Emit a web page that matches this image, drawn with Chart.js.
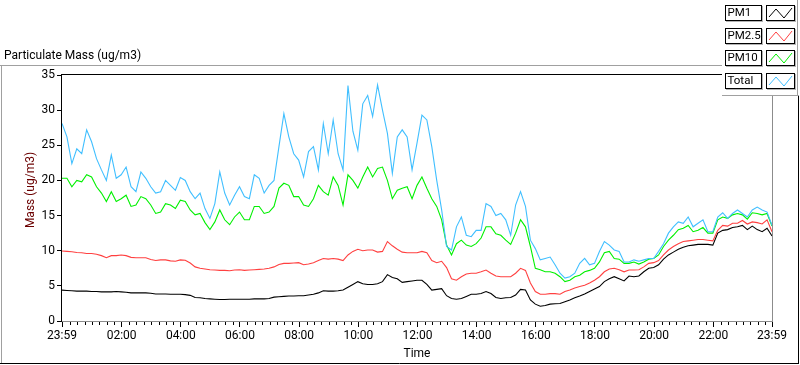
<!DOCTYPE html>
<html>
<head>
<meta charset="utf-8">
<script src="https://cdn.jsdelivr.net/npm/chart.js@4.4.0/dist/chart.umd.min.js"></script>
<style>
  body { margin: 0; background: #fff; }
  #wrap { width: 800px; height: 365px; }
</style>
</head>
<body>
<div id="wrap"><canvas id="myChart" width="800" height="365"></canvas></div>
<script>
// x axis is minutes after 23:59 (start of the day), one sample every 10 min
const sampleStep = 10;
const tickMinutes = [0, 121, 241, 361, 481, 601, 721, 841, 961, 1081, 1201, 1321, 1440];
const tickLabels = ['23:59', '02:00', '04:00', '06:00', '08:00', '10:00', '12:00',
  '14:00', '16:00', '18:00', '20:00', '22:00', '23:59'];
const minorStep = 15;

const seriesNames = ['PM1', 'PM2.5', 'PM10', 'Total'];
const seriesColors = ['#000000', '#ff4040', '#00f000', '#40bfff'];

const pm1 = [
  4.4, 4.35, 4.3, 4.25, 4.25, 4.25, 4.2, 4.2, 4.15, 4.15, 4.15, 4.2, 4.15, 4.1, 4.0, 4.0, 4.0, 4.0, 3.95, 3.85, 3.85, 3.85, 3.8, 3.8, 3.8, 3.75, 3.65, 3.35, 3.3, 3.2, 3.15,
  3.1, 3.05, 3.05, 3.1, 3.1, 3.1, 3.1, 3.1, 3.15, 3.15, 3.15, 3.2, 3.4, 3.45, 3.5, 3.55, 3.55, 3.6, 3.6, 3.7, 3.8, 4.0, 4.3, 4.25, 4.25, 4.3, 4.4, 4.8,
  5.2, 5.6, 5.3, 5.2, 5.2, 5.3, 5.6, 6.6, 6.2, 6.0, 5.5, 5.6, 5.7, 5.8, 5.8, 5.2, 4.4, 4.5, 4.6, 3.6, 3.2, 3.1, 3.2, 3.5, 3.8, 3.8, 3.9, 4.2, 3.9,
  3.35, 3.2, 3.3, 3.35, 3.7, 4.5, 4.4, 3.0, 2.4, 2.1, 2.2, 2.4, 2.45, 2.5, 2.75, 3.0, 3.3, 3.55, 3.85, 4.2, 4.55, 4.9, 5.6, 6.0, 6.3, 6.0, 5.7, 6.4, 6.3,
  6.4, 7.0, 7.5, 7.6, 8.0, 8.8, 9.4, 9.8, 10.2, 10.5, 10.7, 10.8, 10.9, 10.9, 10.9, 10.8, 12.5, 12.9, 13.0, 13.3, 13.4, 13.6, 13.0, 13.5, 13.0, 12.7, 13.2, 12.1
];
const pm25 = [
  9.95, 9.9, 9.85, 9.75, 9.7, 9.6, 9.6, 9.5, 9.3, 9.0, 9.3, 9.3, 9.4, 9.3, 9.05, 9.0, 9.0, 9.0, 8.75, 8.6, 8.7, 8.7, 8.55, 8.5, 8.7, 8.65, 8.25, 7.7, 7.5, 7.4, 7.3,
  7.25, 7.2, 7.2, 7.15, 7.25, 7.3, 7.2, 7.25, 7.3, 7.35, 7.4, 7.5, 7.7, 8.05, 8.2, 8.2, 8.25, 8.3, 8.0, 8.1, 8.3, 8.6, 8.9, 8.8, 8.9, 8.8, 8.6, 9.4,
  9.9, 10.2, 10.0, 10.1, 10.1, 9.8, 9.9, 11.3, 10.7, 10.2, 9.8, 9.7, 9.7, 9.7, 9.9, 9.7, 8.6, 8.3, 8.5, 7.6, 6.0, 5.8, 6.3, 6.7, 6.8, 6.8, 7.0, 7.25, 6.8,
  6.4, 6.3, 6.3, 6.3, 6.8, 7.5, 7.2, 5.4, 4.2, 3.8, 3.8, 3.9, 3.9, 3.8, 4.2, 4.4, 4.7, 4.9, 5.1, 5.4, 5.8, 6.3, 7.0, 7.4, 7.5, 7.3, 7.0, 7.25, 7.25,
  7.3, 7.7, 8.2, 8.3, 8.6, 9.4, 10.1, 10.6, 11.0, 11.3, 11.4, 11.5, 11.6, 11.6, 11.5, 11.4, 12.9, 13.6, 13.5, 13.9, 13.9, 14.3, 13.8, 14.1, 14.0, 13.8, 14.4, 12.7
];
const pm10 = [
  20.3, 20.3, 19.1, 20.0, 19.8, 20.8, 20.5, 19.1, 18.2, 17.0, 18.4, 17.0, 17.4, 17.9, 16.3, 16.5, 17.7, 17.4, 16.5, 15.3, 15.5, 16.7, 16.5, 16.0, 17.2, 17.0, 15.8, 15.1, 15.3, 14.0, 13.0,
  14.1, 15.8, 14.4, 13.7, 14.8, 15.5, 14.4, 14.4, 16.3, 16.3, 15.3, 15.5, 16.3, 18.9, 19.6, 19.3, 17.7, 17.7, 16.5, 16.3, 17.4, 19.3, 18.4, 17.9, 20.5, 19.3, 16.5, 20.8,
  20.0, 18.9, 20.5, 21.9, 20.5, 21.7, 21.9, 20.0, 17.4, 18.6, 18.9, 19.1, 17.4, 19.3, 20.5, 18.9, 17.4, 16.3, 14.4, 10.8, 9.4, 11.0, 11.5, 10.8, 10.6, 11.0, 11.8, 13.4, 13.4,
  12.4, 12.2, 11.5, 10.9, 12.5, 14.4, 13.4, 10.6, 7.5, 7.3, 7.0, 7.0, 6.8, 6.3, 5.6, 5.8, 6.3, 6.5, 7.0, 7.2, 7.5, 8.4, 9.7, 9.9, 8.9, 8.8, 8.2, 8.2, 8.4,
  8.1, 8.4, 8.8, 8.9, 9.4, 10.6, 11.5, 12.2, 13.0, 13.2, 13.6, 12.7, 12.9, 13.3, 12.5, 12.5, 14.4, 14.8, 14.6, 15.1, 15.3, 15.1, 14.5, 15.4, 15.3, 15.1, 15.3, 13.5
];
const total = [
  28.1, 26.2, 22.4, 24.5, 23.8, 27.2, 25.5, 23.1, 21.5, 20.0, 23.6, 20.3, 20.8, 21.9, 19.1, 18.4, 21.2, 20.3, 19.1, 18.2, 18.4, 20.0, 19.3, 18.6, 20.4, 20.0, 18.4, 17.4, 18.2, 16.0, 14.6,
  16.7, 21.2, 18.2, 16.5, 17.9, 19.1, 17.7, 17.4, 20.8, 20.3, 18.2, 19.3, 20.0, 24.8, 29.5, 26.2, 23.8, 22.9, 20.5, 24.1, 24.8, 21.5, 28.1, 23.8, 28.6, 23.8, 21.5, 33.5,
  27.0, 24.3, 30.9, 32.1, 29.1, 33.6, 30.0, 26.7, 21.0, 26.2, 27.2, 26.2, 21.5, 25.3, 29.3, 28.6, 24.8, 20.0, 15.8, 10.6, 10.1, 13.4, 14.8, 12.2, 12.0, 12.9, 12.9, 16.7, 16.3,
  15.0, 15.3, 14.4, 12.2, 16.5, 18.4, 16.3, 11.5, 10.3, 8.7, 8.9, 9.1, 8.0, 6.8, 6.1, 6.3, 6.8, 8.2, 8.9, 8.0, 8.2, 9.9, 11.3, 10.8, 10.1, 9.9, 8.4, 8.4, 8.7,
  8.5, 8.7, 8.9, 8.9, 9.9, 11.0, 12.5, 13.4, 14.1, 13.9, 14.8, 13.4, 13.9, 14.4, 12.7, 12.7, 14.8, 15.4, 14.6, 15.3, 15.8, 15.3, 14.8, 15.8, 16.2, 15.8, 15.5, 13.6
];

const uiFont = 'Roboto, "Noto Sans", sans-serif';

function toPoints(values) {
  return values.map((v, i) => ({ x: i * sampleStep, y: v }));
}

function hline(ctx, x1, x2, y, color) {
  ctx.strokeStyle = color;
  ctx.beginPath(); ctx.moveTo(x1, y); ctx.lineTo(x2, y); ctx.stroke();
}
function vline(ctx, x, y1, y2, color) {
  ctx.strokeStyle = color;
  ctx.beginPath(); ctx.moveTo(x, y1); ctx.lineTo(x, y2); ctx.stroke();
}

// panel frame, minor ticks, y title, header and the plot legend
const panelPlugin = {
  id: 'panel',
  beforeDraw(chart) {
    const ctx = chart.ctx;
    ctx.save();
    ctx.fillStyle = '#fff';
    ctx.fillRect(0, 0, chart.width, chart.height);
    ctx.restore();
  },
  afterDraw(chart) {
    const { ctx, chartArea: a, scales: { x } } = chart;
    ctx.save();
    ctx.lineWidth = 1;

    // minor ticks on the time axis
    for (let m = tickMinutes[1] % minorStep; m < 1440; m += minorStep) {
      if (tickMinutes.includes(m)) continue;
      const px = Math.round(x.getPixelForValue(m)) + 0.5;
      vline(ctx, px, a.bottom + 1, a.bottom + 4, '#000');
    }

    // plot box
    hline(ctx, a.left - 1, a.right + 1, a.top - 0.5, '#000');
    vline(ctx, a.left - 0.5, a.top - 1, a.bottom + 1, '#000');
    vline(ctx, a.right + 0.5, a.top - 1, a.bottom + 1, '#8c8c8c');
    hline(ctx, a.left, a.right + 1, a.bottom + 0.5, '#8c8c8c');

    // outer panel
    hline(ctx, 0, 722, 65.5, '#a0a0a0');
    vline(ctx, 1.5, 65, 363, '#a0a0a0');
    hline(ctx, 0, 799, 363.5, '#000');
    vline(ctx, 798.5, 96, 364, '#000');

    // header and y title
    ctx.fillStyle = '#000';
    ctx.font = '12px ' + uiFont;
    ctx.textBaseline = 'middle';
    ctx.textAlign = 'left';
    ctx.fillText('Particulate Mass (ug/m3)', 4, 56);
    ctx.save();
    ctx.translate(31, 190);
    ctx.rotate(-Math.PI / 2);
    ctx.textAlign = 'center';
    ctx.fillStyle = '#6b0000';
    ctx.fillText('Mass (ug/m3)', 0, 0);
    ctx.restore();

    // legend panel
    ctx.fillStyle = '#fff';
    ctx.fillRect(722, 0, 77, 96);
    hline(ctx, 722, 799, 95.5, '#a0a0a0');
    vline(ctx, 797.5, 0, 96, '#a0a0a0');
    chart.data.datasets.forEach((ds, i) => {
      const top = Math.round(5 + i * 22.7);
      // name box
      ctx.strokeStyle = '#000';
      ctx.strokeRect(725.5, top + 0.5, 36, 15);
      hline(ctx, 726, 762, top + 16.5, '#b4b4b4');
      vline(ctx, 762.5, top + 1, top + 17, '#b4b4b4');
      ctx.fillStyle = '#000';
      ctx.font = '11.5px ' + uiFont;
      ctx.textAlign = 'left';
      ctx.fillText(ds.label, 727.5, top + 8.5);
      // sample box
      ctx.strokeStyle = '#000';
      ctx.strokeRect(766.5, top + 0.5, 28, 15);
      hline(ctx, 767, 795, top + 16.5, '#b4b4b4');
      vline(ctx, 795.5, top + 1, top + 17, '#b4b4b4');
      ctx.strokeStyle = ds.borderColor;
      ctx.beginPath();
      ctx.moveTo(769, top + 12);
      ctx.lineTo(776, top + 4);
      ctx.lineTo(784, top + 13);
      ctx.lineTo(792, top + 3);
      ctx.stroke();
    });
    ctx.restore();
  }
};

const series = [pm1, pm25, pm10, total];
const ctx = document.getElementById('myChart').getContext('2d');
const myChart = new Chart(ctx, {
  type: 'line',
  data: {
    datasets: series.map((values, i) => ({
      label: seriesNames[i],
      data: toPoints(values),
      borderColor: seriesColors[i],
      borderWidth: 1.1,
      pointRadius: 0,
      tension: 0,
      order: 3 - i,
    })),
  },
  options: {
    responsive: false,
    animation: false,
    layout: { padding: { left: 0, top: 75, right: 28, bottom: 0 } },
    plugins: {
      legend: { display: false },
      tooltip: { enabled: false },
    },
    scales: {
      x: {
        type: 'linear',
        min: 0,
        max: 1440,
        afterFit: (scale) => { scale.height = 44; },
        afterBuildTicks: (scale) => {
          scale.ticks = tickMinutes.map((m) => ({ value: m }));
        },
        ticks: {
          autoSkip: false,
          maxRotation: 0,
          padding: 2,
          color: '#000',
          font: { family: uiFont, size: 12 },
          callback: (value) => tickLabels[tickMinutes.indexOf(value)],
        },
        grid: { drawOnChartArea: false, drawTicks: true, tickLength: 6, color: '#000' },
        border: { display: false },
        title: {
          display: true,
          text: 'Time',
          color: '#000',
          font: { family: uiFont, size: 12 },
          padding: { top: 0, bottom: 4 },
        },
      },
      y: {
        min: 0,
        max: 35,
        afterFit: (scale) => { scale.width = 62; },
        ticks: {
          stepSize: 5,
          padding: 2,
          color: '#000',
          font: { family: uiFont, size: 12 },
        },
        grid: { drawOnChartArea: false, drawTicks: true, tickLength: 5, color: '#000' },
        border: { display: false },
      },
    },
  },
  plugins: [panelPlugin],
});
</script>
</body>
</html>
